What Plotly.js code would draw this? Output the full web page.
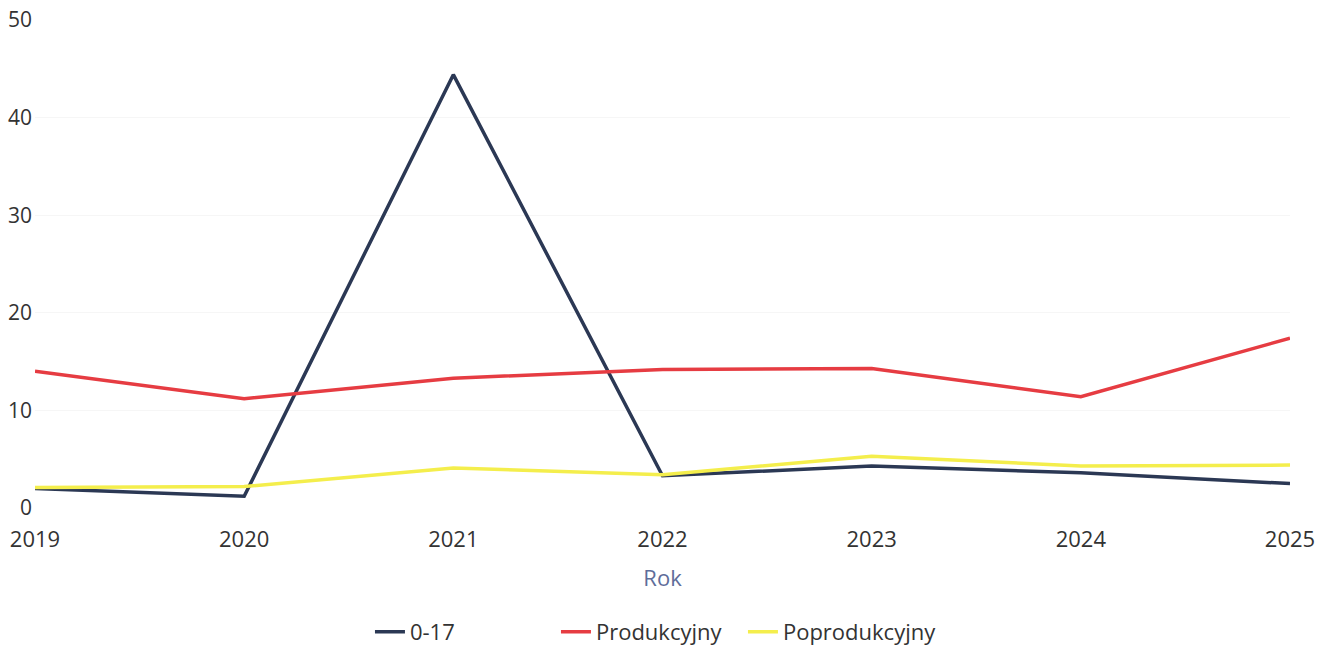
<!DOCTYPE html>
<html>
<head>
<meta charset="utf-8">
<script src="https://cdn.plot.ly/plotly-3.0.1.min.js"></script>
<style>html,body{margin:0;padding:0;background:#fff;}#chart{width:1321px;height:647px;}</style>
</head>
<body>
<div id="chart"></div>
<script>
const years = [2019, 2020, 2021, 2022, 2023, 2024, 2025];
const age0_17 = [2.0, 1.2, 44.4, 3.3, 4.3, 3.6, 2.5];
const produkcyjny = [14.0, 11.2, 13.3, 14.2, 14.3, 11.4, 17.4];
const poprodukcyjny = [2.1, 2.2, 4.1, 3.4, 5.3, 4.3, 4.4];
const yTicks = [0, 10, 20, 30, 40, 50];

const traces = [
  {x: years, y: age0_17, name: '0-17', type: 'scatter', mode: 'lines', legend: 'legend', line: {color: '#2b3854', width: 3.5}},
  {x: years, y: produkcyjny, name: 'Produkcyjny', type: 'scatter', mode: 'lines', legend: 'legend2', line: {color: '#e63c42', width: 3.5}},
  {x: years, y: poprodukcyjny, name: 'Poprodukcyjny', type: 'scatter', mode: 'lines', legend: 'legend3', line: {color: '#f4ee4c', width: 3.5}}
];

function leg(x) {
  return {orientation: 'h', x: x, xanchor: 'left', y: -0.254, yanchor: 'middle',
          bgcolor: 'rgba(0,0,0,0)', font: {size: 22, color: '#333333'}};
}

const layout = {
  width: 1321, height: 647,
  margin: {l: 35, r: 31, t: 20, b: 139, autoexpand: false},
  paper_bgcolor: '#ffffff', plot_bgcolor: '#ffffff',
  font: {family: 'Open Sans, Noto Sans, sans-serif', size: 21, color: '#333333'},
  showlegend: true,
  legend: leg(0.2669),
  legend2: leg(0.4151),
  legend3: leg(0.5641),
  xaxis: {
    range: [2019, 2025], tickmode: 'array', tickvals: years, ticktext: years.map(String),
    showgrid: false, zeroline: false, showline: false, ticks: '', automargin: false,
    ticklabelstandoff: 16, tickfont: {size: 22},
    title: {text: 'Rok', font: {size: 22, color: '#5e6d9a'}, standoff: 18}
  },
  yaxis: {
    range: [0, 50], tickmode: 'array', tickvals: yTicks, ticktext: yTicks.map(String),
    showgrid: true, gridcolor: '#f6f6f6', zeroline: false, showline: false, ticks: '', automargin: false,
    ticklabelstandoff: 2, tickfont: {size: 21}
  }
};

Plotly.newPlot('chart', traces, layout, {displayModeBar: false, staticPlot: true});
</script>
</body>
</html>
